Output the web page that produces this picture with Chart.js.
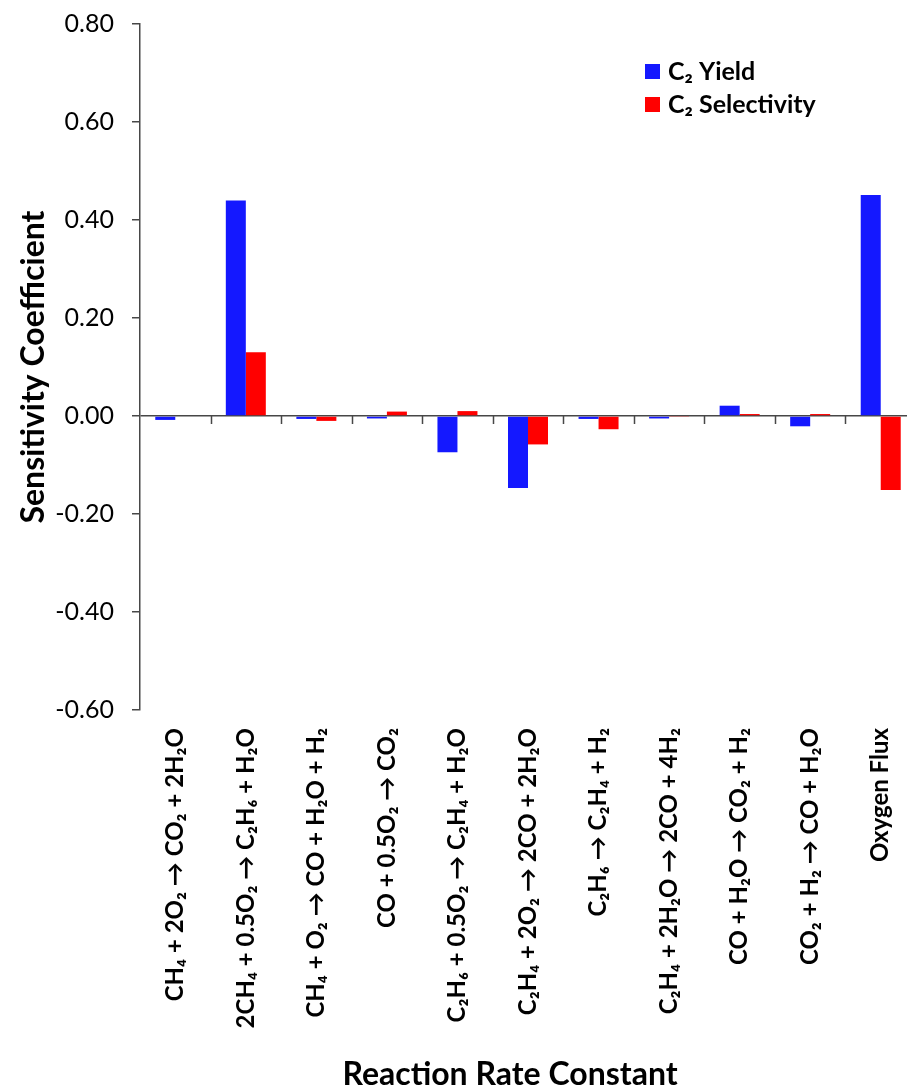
<!DOCTYPE html>
<html>
<head>
<meta charset="utf-8">
<script src="https://cdn.jsdelivr.net/npm/chart.js@4.4.1/dist/chart.umd.min.js"></script>
<style>
  html, body { margin: 0; padding: 0; background: #fff; overflow: hidden; }
  #wrap { width: 916px; height: 1091px; }
</style>
</head>
<body>
<div id="wrap"><canvas id="chart"></canvas></div>
<script>
const reactions = [
  'CH₄ + 2O₂ → CO₂ + 2H₂O',
  '2CH₄ + 0.5O₂ → C₂H₆ + H₂O',
  'CH₄ + O₂ → CO + H₂O + H₂',
  'CO + 0.5O₂ → CO₂',
  'C₂H₆ + 0.5O₂ → C₂H₄ + H₂O',
  'C₂H₄ + 2O₂ → 2CO + 2H₂O',
  'C₂H₆ → C₂H₄ + H₂',
  'C₂H₄ + 2H₂O → 2CO + 4H₂',
  'CO + H₂O → CO₂ + H₂',
  'CO₂ + H₂ → CO + H₂O',
  'Oxygen Flux'
]
const c2Yield = [-0.008, 0.44, -0.006, -0.005, -0.074, -0.147, -0.006, -0.005, 0.021, -0.021, 0.451]
const c2Selectivity = [0, 0.13, -0.01, 0.009, 0.01, -0.058, -0.027, -0.002, 0.004, 0.004, -0.151]
const yTicks = [-0.6, -0.4, -0.2, 0, 0.2, 0.4, 0.6, 0.8]

const FONT = "Lato, 'Noto Sans', 'DejaVu Sans', sans-serif"
const AXIS = '#474747'

// small tick marks along the zero line between categories
const zeroTicks = {
  id: 'zeroTicks',
  afterDatasetsDraw(chart) {
    const x = chart.scales.x, y = chart.scales.y
    const y0 = y.getPixelForValue(0)
    const ctx = chart.ctx
    ctx.save()
    ctx.strokeStyle = AXIS
    ctx.lineWidth = 1.5
    for (let i = 1; i < reactions.length; i++) {
      const px = Math.round((x.getPixelForValue(i - 1) + x.getPixelForValue(i)) / 2) + 0.5
      ctx.beginPath()
      ctx.moveTo(px, y0)
      ctx.lineTo(px, y0 + 8)
      ctx.stroke()
    }
    ctx.restore()
  }
}

// legend box drawn inside the plot, upper right
const insideLegend = {
  id: 'insideLegend',
  afterDraw(chart) {
    const ctx = chart.ctx
    ctx.save()
    ctx.font = 'bold 25px ' + FONT
    ctx.textBaseline = 'middle'
    chart.data.datasets.forEach((ds, i) => {
      const top = 64 + i * 33
      ctx.fillStyle = ds.backgroundColor
      ctx.fillRect(645, top, 15, 15)
      ctx.fillStyle = '#000'
      ctx.fillText(ds.label, 668, top + 8)
    })
    ctx.restore()
  }
}

// axis title under the category labels
const bottomTitle = {
  id: 'bottomTitle',
  afterDraw(chart) {
    const ctx = chart.ctx
    ctx.save()
    ctx.font = 'bold 32px ' + FONT
    ctx.fillStyle = '#000'
    ctx.textAlign = 'center'
    ctx.textBaseline = 'middle'
    ctx.fillText('Reaction Rate Constant', 510, chart.height - 16)
    ctx.restore()
  }
}

let ctx = document.getElementById('chart').getContext('2d')
let myChart = new Chart(ctx, {
  type: 'bar',
  data: {
    labels: reactions,
    datasets: [{
      label: 'C₂ Yield',
      data: c2Yield,
      backgroundColor: '#1418FF'
    }, {
      label: 'C₂ Selectivity',
      data: c2Selectivity,
      backgroundColor: '#FF0000'
    }]
  },
  options: {
    responsive: true,
    maintainAspectRatio: false,
    animation: false,
    layout: { padding: { top: 24, right: 0, bottom: 0, left: 0 } },
    plugins: {
      legend: { display: false },
      tooltip: { enabled: false }
    },
    datasets: {
      bar: { categoryPercentage: 0.567, barPercentage: 1 }
    },
    scales: {
      x: {
        grid: { display: false, drawTicks: false },
        border: { display: false },
        ticks: {
          autoSkip: false,
          minRotation: 90,
          maxRotation: 90,
          padding: 18,
          color: '#000',
          font: { family: FONT, size: 24, weight: 'bold' }
        },
        afterFit: scale => {
          scale.height = 381
          scale.paddingLeft = 0
          scale.paddingRight = 0
        }
      },
      y: {
        min: -0.6,
        max: 0.8,
        afterBuildTicks: scale => { scale.ticks = yTicks.map(v => ({ value: v })) },
        grid: {
          color: c => c.tick && c.tick.value === 0 ? AXIS : 'rgba(0,0,0,0)',
          lineWidth: 1.5,
          tickColor: AXIS,
          tickLength: 8,
          drawTicks: true
        },
        border: { display: true, color: AXIS, width: 1.5 },
        ticks: {
          padding: 18,
          color: '#000',
          font: { family: FONT, size: 25 },
          callback: v => Number(v).toFixed(2)
        },
        title: {
          display: true,
          text: 'Sensitivity Coefficient',
          color: '#000',
          padding: { top: 14, bottom: 0 },
          font: { family: FONT, size: 32, weight: 'bold' }
        },
        afterFit: scale => {
          scale.width = 140
          scale.paddingTop = 0
          scale.paddingBottom = 0
        }
      }
    }
  },
  plugins: [zeroTicks, insideLegend, bottomTitle]
})
</script>
</body>
</html>
